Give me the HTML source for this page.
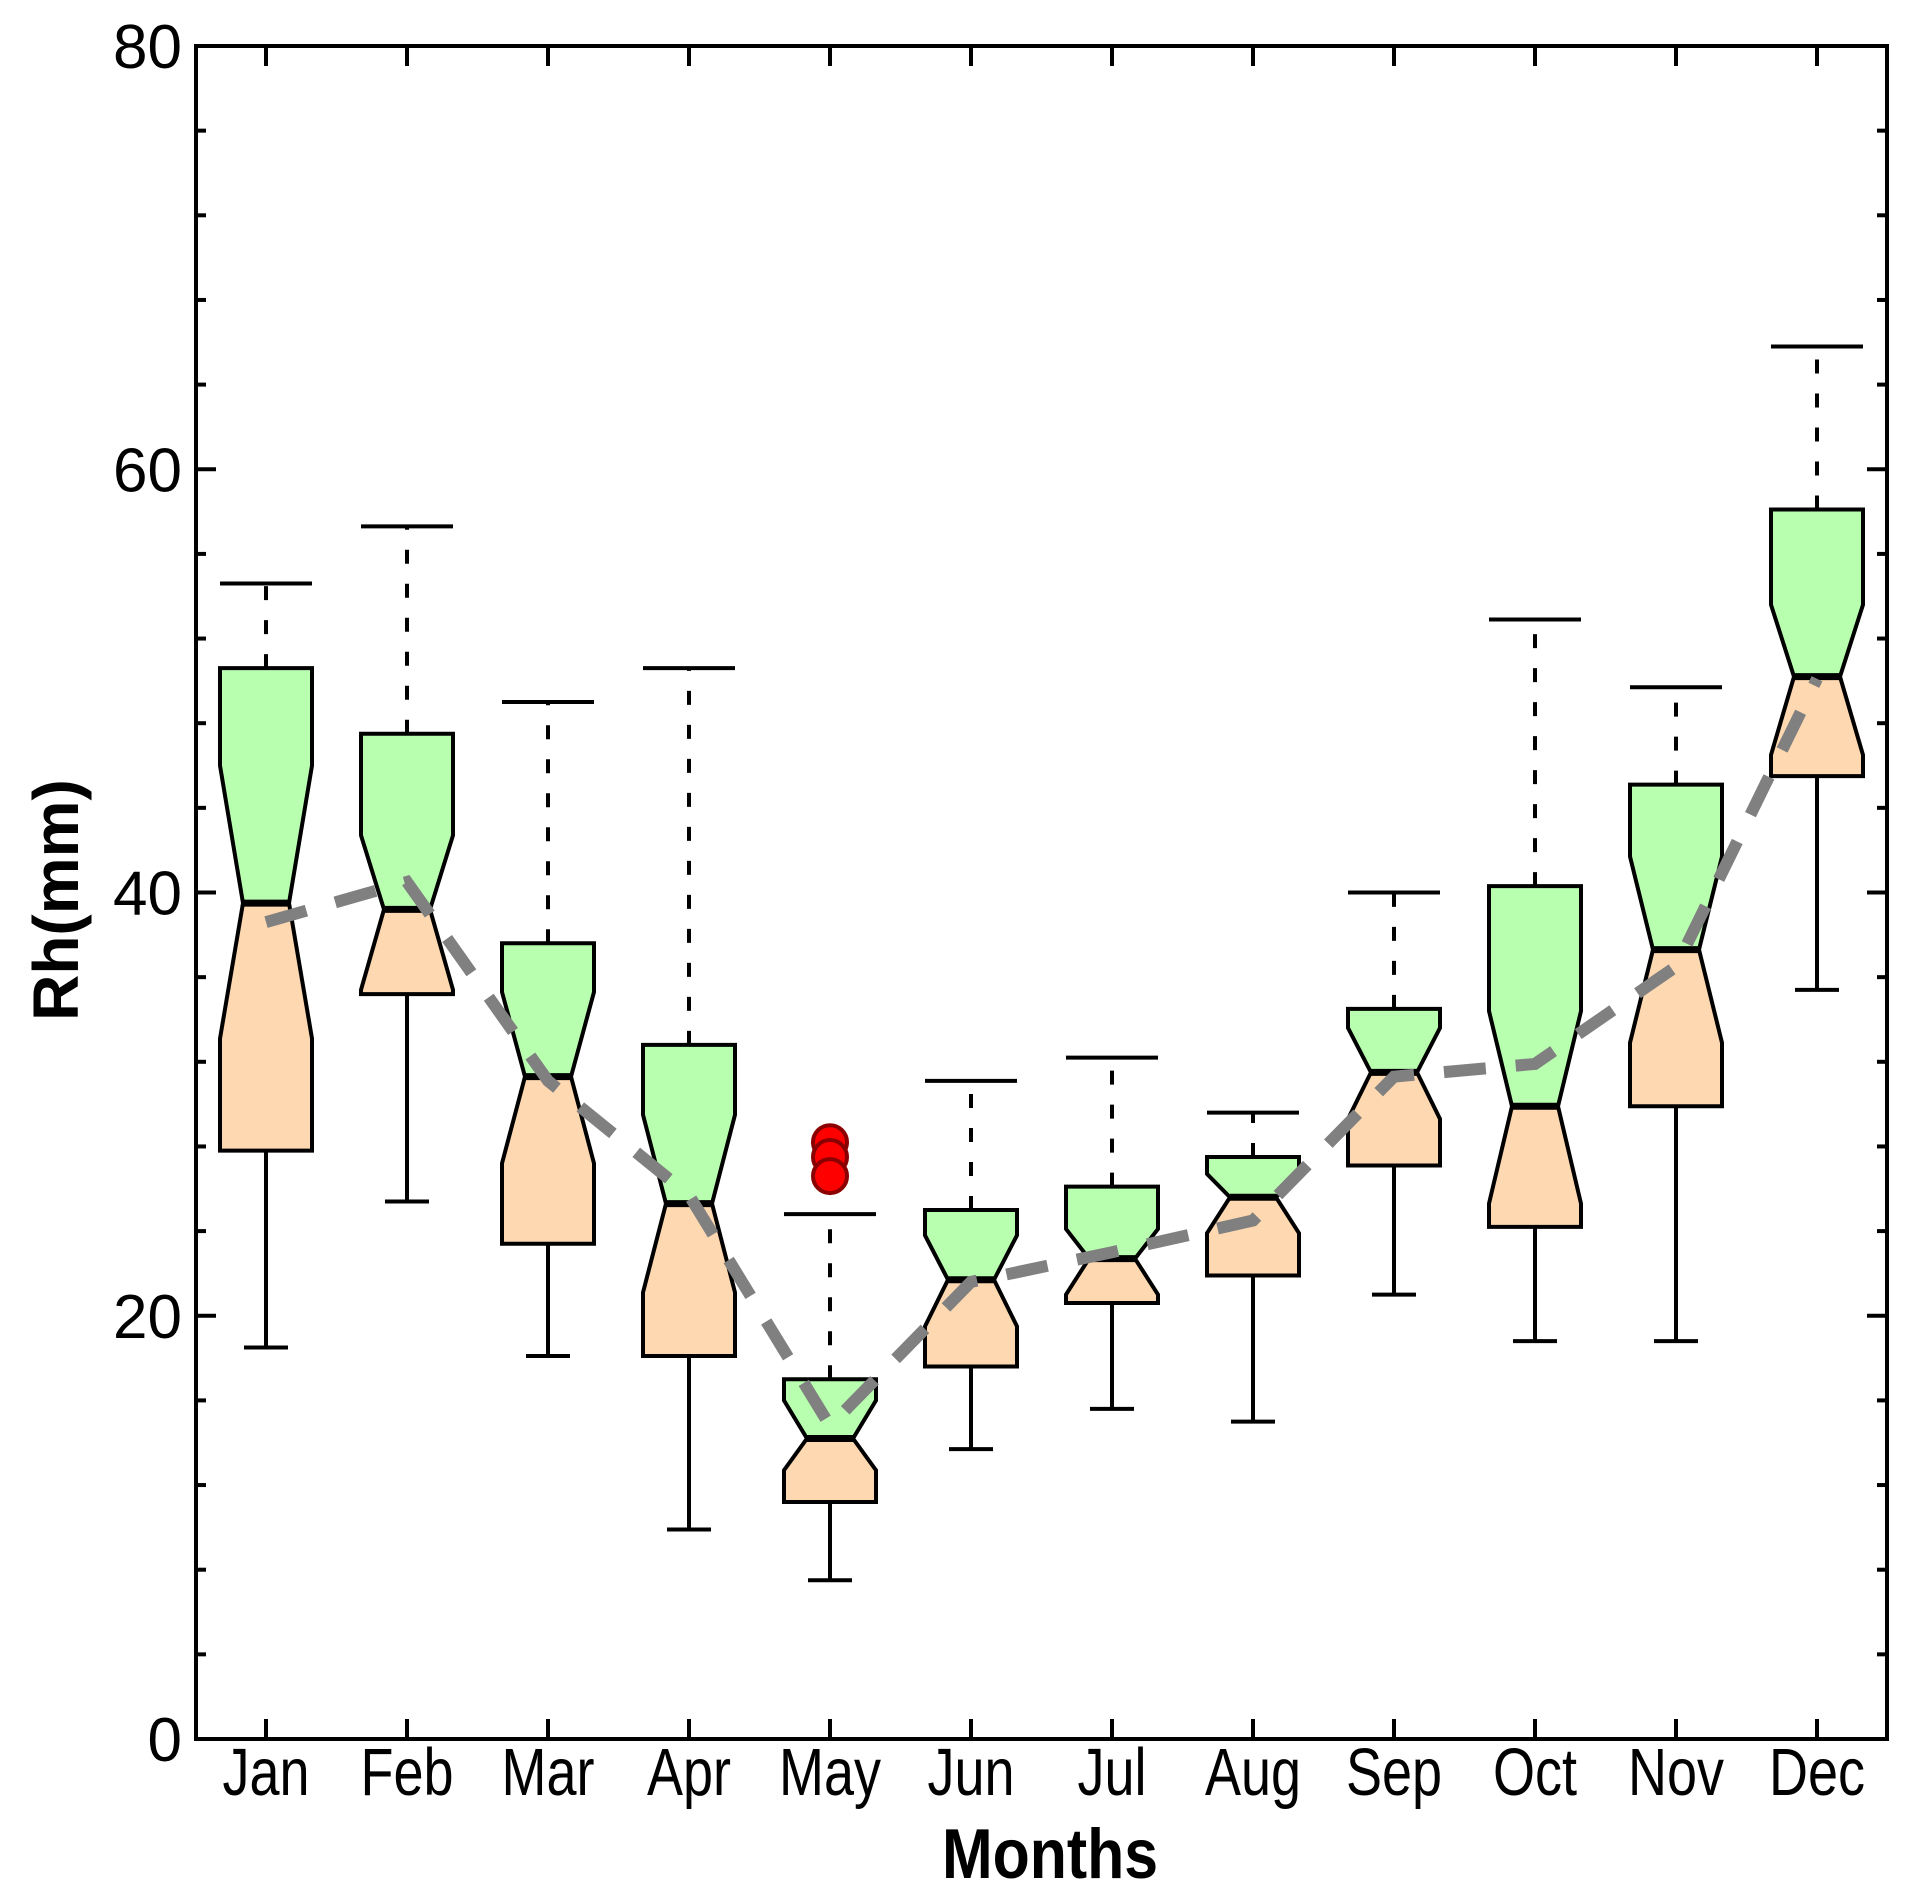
<!DOCTYPE html>
<html><head><meta charset="utf-8"><style>
html,body{margin:0;padding:0;background:#fff;}
svg{display:block;}
text{font-family:"Liberation Sans",Arial,sans-serif;fill:#000;}
</style></head><body>
<svg id="chart" width="1925" height="1898" viewBox="0 0 1925 1898" xmlns="http://www.w3.org/2000/svg">
<g id="plot"></g>
</svg>
<script>
const months = ["Jan","Feb","Mar","Apr","May","Jun","Jul","Aug","Sep","Oct","Nov","Dec"];
const whiskerHigh = [54.6,57.3,49.0,50.6,24.8,31.1,32.2,29.6,40.0,52.9,49.7,65.8];
const q3 = [50.6,47.5,37.6,32.8,17.0,25.0,26.1,27.5,34.5,40.3,45.1,58.1];
const notchHigh = [46.0,42.7,35.3,29.5,16.0,23.8,24.1,26.7,33.6,34.4,41.7,53.6];
const medians = [39.5,39.2,31.3,25.3,14.2,21.7,22.7,25.6,31.5,29.9,37.3,50.2];
const notchLow = [33.1,35.4,27.2,21.1,12.7,19.5,21.0,23.9,29.3,25.3,32.9,46.5];
const q1 = [27.8,35.2,23.4,18.1,11.2,17.6,20.6,21.9,27.1,24.2,29.9,45.5];
const whiskerLow = [18.5,25.4,18.1,9.9,7.5,13.7,15.6,15.0,21.0,18.8,18.8,35.4];
const means = [38.6,40.5,31.1,25.7,14.8,21.6,23.0,24.5,31.3,31.9,36.5,50.1];
const outlierMonth = [4,4,4];
const outlierValues = [28.2,27.5,26.6];
const yTicks = [0,20,40,60,80];

const L=196,R=1887,T=46,B=1739;
const yMin=0,yMax=80;
function y(v){return B-(v-yMin)/(yMax-yMin)*(B-T);}
function x(i){return 266+i*141;}
const NS="http://www.w3.org/2000/svg";
const g=document.getElementById('plot');
function el(tag,attrs,parent){const e=document.createElementNS(NS,tag);for(const k in attrs)e.setAttribute(k,attrs[k]);(parent||g).appendChild(e);return e;}

const hw=46, nw=23, capLow=22;
for(let i=0;i<months.length;i++){
  const cx=x(i);
  const grp=el('g',{});
  
  
  const uw=el('line',{x1:cx,y1:y(q3[i]),x2:cx,y2:y(whiskerHigh[i]),stroke:'#000','stroke-width':4,'stroke-dasharray':'14 20'},grp);
  
  
  const uc=el('line',{x1:cx-hw,y1:y(whiskerHigh[i]),x2:cx+hw,y2:y(whiskerHigh[i]),stroke:'#000','stroke-width':4},grp);
  
  
  const lw=el('line',{x1:cx,y1:y(q1[i]),x2:cx,y2:y(whiskerLow[i]),stroke:'#000','stroke-width':4},grp);
  
  
  const lc=el('line',{x1:cx-capLow,y1:y(whiskerLow[i]),x2:cx+capLow,y2:y(whiskerLow[i]),stroke:'#000','stroke-width':4},grp);
  
  
  const up=el('polygon',{points:[[cx-hw,y(q3[i])],[cx+hw,y(q3[i])],[cx+hw,y(notchHigh[i])],[cx+nw,y(medians[i])],[cx-nw,y(medians[i])],[cx-hw,y(notchHigh[i])]].map(p=>p.join(',')).join(' '),fill:'#b9ffb0',stroke:'#000','stroke-width':4},grp);
  
  
  const lo=el('polygon',{points:[[cx-nw,y(medians[i])],[cx+nw,y(medians[i])],[cx+hw,y(notchLow[i])],[cx+hw,y(q1[i])],[cx-hw,y(q1[i])],[cx-hw,y(notchLow[i])]].map(p=>p.join(',')).join(' '),fill:'#fdd8b0',stroke:'#000','stroke-width':4},grp);
  
  
  const md=el('line',{x1:cx-nw,y1:y(medians[i]),x2:cx+nw,y2:y(medians[i]),stroke:'#000','stroke-width':7},grp);
  
  
}
const mp=el('polyline',{points:means.map((v,i)=>x(i)+','+y(v)).join(' '),fill:'none',stroke:'#808080','stroke-width':12,'stroke-dasharray':'42 30'});


for(let k=0;k<outlierValues.length;k++){
  const c=el('circle',{cx:x(outlierMonth[k]),cy:y(outlierValues[k]),r:17,fill:'#ff0000',stroke:'#8b0000','stroke-width':4});
  
  
}
const fr=el('rect',{x:L,y:T,width:R-L,height:B-T,fill:'none',stroke:'#000','stroke-width':4});


for(let v=0;v<=80;v+=4){
  const len=(v%20===0)?20:10;
  el('line',{x1:L,y1:y(v),x2:L+len,y2:y(v),stroke:'#000','stroke-width':4});
  el('line',{x1:R,y1:y(v),x2:R-len,y2:y(v),stroke:'#000','stroke-width':4});
}
for(const v of yTicks){
  const t=el('text',{x:182,y:y(v)+22,'text-anchor':'end','font-size':62});
  t.textContent=v;
  
  
}
for(let i=0;i<months.length;i++){
  el('line',{x1:x(i),y1:B,x2:x(i),y2:B-20,stroke:'#000','stroke-width':4});
  el('line',{x1:x(i),y1:T,x2:x(i),y2:T+20,stroke:'#000','stroke-width':4});
  const t=el('text',{x:x(i),y:1795,'text-anchor':'middle','font-size':60,transform:'translate('+x(i)+' 1795) scale(0.9 1.12) translate('+(-x(i))+' -1795)'});
  t.textContent=months[i];
  
  
}
const xt=el('text',{x:1050,y:1878,'text-anchor':'middle','font-size':64,'font-weight':'bold',transform:'translate(1050 1878) scale(0.95 1.1) translate(-1050 -1878)'});
xt.textContent='Months';


const yt=el('text',{x:0,y:0,'text-anchor':'middle','font-size':64,'font-weight':'bold',transform:'translate(78,900) rotate(-90)'});
yt.textContent='Rh(mm)';


</script>
</body></html>
